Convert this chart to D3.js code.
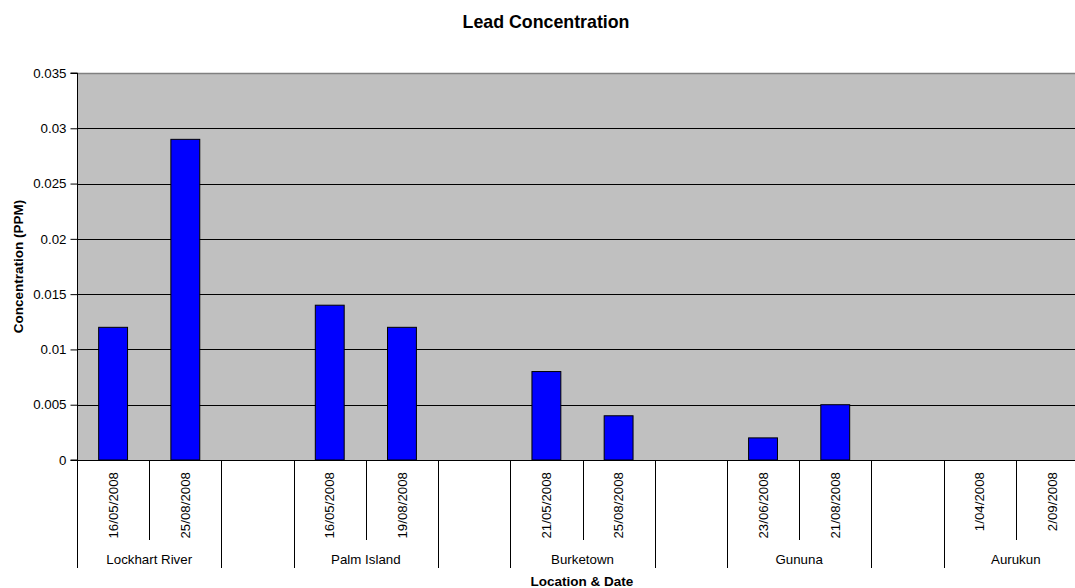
<!DOCTYPE html>
<html>
<head>
<meta charset="utf-8">
<script src="https://cdn.jsdelivr.net/npm/d3@7"></script>
<style>
  html, body { margin: 0; padding: 0; background: #fff; }
  svg { display: block; font-family: "Liberation Sans", Arial, sans-serif; }
</style>
</head>
<body>
<svg id="chart" width="1075" height="588"></svg>
<script>
// Sampling sites, their sample dates and measured lead (ppm)
const locations = ["Lockhart River", "Palm Island", "Burketown", "Gununa", "Aurukun"];
const sampleDates = [
  ["16/05/2008", "25/08/2008"],
  ["16/05/2008", "19/08/2008"],
  ["21/05/2008", "25/08/2008"],
  ["23/06/2008", "21/08/2008"],
  ["1/04/2008", "2/09/2008"]
];
const leadPpm = [
  [0.012, 0.029],
  [0.014, 0.012],
  [0.008, 0.004],
  [0.002, 0.005],
  [0, 0]
];
const yTicks = [0, 0.005, 0.01, 0.015, 0.02, 0.025, 0.03, 0.035];

// Build category slots: two dated samples per site, with an empty slot between sites
const slots = [];
const groups = [];
locations.forEach((loc, i) => {
  const first = slots.length;
  sampleDates[i].forEach((d, j) => {
    slots.push({ key: loc + "|" + d, date: d, value: leadPpm[i][j], group: loc });
  });
  groups.push({ name: loc, from: first, to: slots.length });
  if (i < locations.length - 1) {
    const k = slots.length;
    slots.push({ key: "gap" + i, date: "", value: null, group: "" });
    groups.push({ name: "", from: k, to: k + 1 });
  }
});

const svg = d3.select("#chart");
const plot = { left: 77, top: 73, right: 1088, bottom: 460 };

const x = d3.scaleBand()
  .domain(slots.map(s => s.key))
  .range([plot.left, plot.right])
  .paddingInner(0).paddingOuter(0);

const y = d3.scaleLinear()
  .domain([0, 0.035])
  .range([plot.bottom, plot.top]);

// Plot background
svg.append("rect")
  .attr("x", plot.left).attr("y", plot.top)
  .attr("width", plot.right - plot.left)
  .attr("height", plot.bottom - plot.top)
  .attr("fill", "#c0c0c0");

// Horizontal gridlines
svg.append("g")
  .selectAll("line")
  .data(yTicks.filter(t => t > 0 && t < 0.035))
  .join("line")
  .attr("x1", plot.left).attr("x2", plot.right)
  .attr("y1", d => Math.round(y(d)) + 0.5)
  .attr("y2", d => Math.round(y(d)) + 0.5)
  .attr("stroke", "#000").attr("stroke-width", 1);

// Plot top border
svg.append("line")
  .attr("x1", plot.left).attr("x2", plot.right)
  .attr("y1", Math.round(y(0.035)) + 0.5).attr("y2", Math.round(y(0.035)) + 0.5)
  .attr("stroke", "#808080").attr("stroke-width", 1.5);

// Bars
const barW = x.bandwidth() * 0.4;
svg.append("g")
  .selectAll("rect")
  .data(slots.filter(s => s.value !== null && s.value > 0))
  .join("rect")
  .attr("x", d => x(d.key) + (x.bandwidth() - barW) / 2)
  .attr("y", d => y(d.value))
  .attr("width", barW)
  .attr("height", d => y(0) - y(d.value))
  .attr("fill", "#0000ff")
  .attr("stroke", "#000")
  .attr("stroke-width", 1);

// Y axis
const yAxis = d3.axisLeft(y)
  .tickValues(yTicks)
  .tickFormat(d3.format("~g"))
  .tickSize(7)
  .tickPadding(4);
const gy = svg.append("g")
  .attr("transform", `translate(${plot.left + 0.5},0)`)
  .call(yAxis);
gy.selectAll("text")
  .attr("font-size", "13.3px")
  .attr("fill", "#000")
  .attr("font-family", "'Liberation Sans', Arial, sans-serif");
gy.selectAll("line, path").attr("stroke", "#000");
gy.select(".domain").attr("d", `M-7,${y(0.035)}H0V${y(0)}H-7`);

// X axis baseline
svg.append("line")
  .attr("x1", plot.left).attr("x2", plot.right)
  .attr("y1", plot.bottom + 0.5).attr("y2", plot.bottom + 0.5)
  .attr("stroke", "#000");

// Category dividers: short between dates, long between site groups
const groupEdges = new Set();
groups.forEach(g => { groupEdges.add(g.from); groupEdges.add(g.to); });
const edges = d3.range(slots.length + 1);
svg.append("g")
  .selectAll("line")
  .data(edges)
  .join("line")
  .attr("x1", i => Math.round(plot.left + i * x.step()) + 0.5)
  .attr("x2", i => Math.round(plot.left + i * x.step()) + 0.5)
  .attr("y1", plot.bottom)
  .attr("y2", i => groupEdges.has(i) ? 568 : 540)
  .attr("stroke", "#000");

// Date labels
svg.append("g")
  .selectAll("text")
  .data(slots.filter(s => s.date))
  .join("text")
  .attr("transform", d => `translate(${x(d.key) + x.bandwidth() / 2},472) rotate(-90)`)
  .attr("text-anchor", "end")
  .attr("dy", "0.35em")
  .attr("font-size", "13.3px")
  .attr("fill", "#000")
  .text(d => d.date);

// Site labels
svg.append("g")
  .selectAll("text")
  .data(groups.filter(g => g.name))
  .join("text")
  .attr("x", g => plot.left + (g.from + g.to) / 2 * x.step())
  .attr("y", 564)
  .attr("text-anchor", "middle")
  .attr("font-size", "13.3px")
  .attr("fill", "#000")
  .text(g => g.name);

// Titles
svg.append("text")
  .attr("x", 546).attr("y", 28)
  .attr("text-anchor", "middle")
  .attr("font-size", "17.8px").attr("font-weight", "bold")
  .text("Lead Concentration");

svg.append("text")
  .attr("x", 582).attr("y", 586)
  .attr("text-anchor", "middle")
  .attr("font-size", "13.5px").attr("font-weight", "bold")
  .text("Location & Date");

svg.append("text")
  .attr("transform", `translate(22.5,${(plot.top + plot.bottom) / 2}) rotate(-90)`)
  .attr("text-anchor", "middle")
  .attr("font-size", "13.5px").attr("font-weight", "bold")
  .text("Concentration (PPM)");
</script>
</body>
</html>
